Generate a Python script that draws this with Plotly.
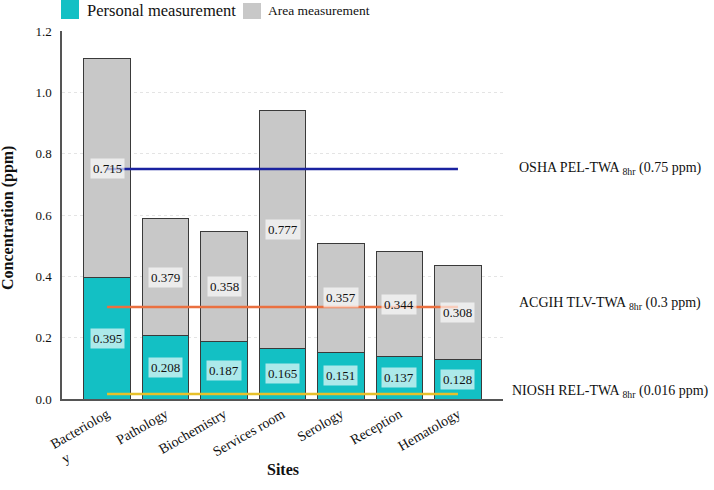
import plotly.graph_objects as go

sites = ["Bacteriology", "Pathology", "Biochemistry", "Services room", "Serology", "Reception", "Hematology"]
tick_labels = ["Bacteriolog<br>y" + "&nbsp;" * 16, "Pathology", "Biochemistry", "Services room",
               "Serology", "Reception", "Hematology"]
personal = [0.395, 0.208, 0.187, 0.165, 0.151, 0.137, 0.128]
area = [0.715, 0.379, 0.358, 0.777, 0.357, 0.344, 0.308]
series_names = ["Personal measurement", "Area measurement"]
limit_names = ["OSHA PEL-TWA <sub>8hr</sub> (0.75 ppm)",
               "ACGIH TLV-TWA <sub>8hr</sub> (0.3 ppm)",
               "NIOSH REL-TWA <sub>8hr</sub> (0.016 ppm)"]
limit_values = [0.75, 0.3, 0.016]
limit_label_y = [0.753, 0.31, 0.026]
limit_colors = ["#1a22a0", "#ea7040", "#e8c02a"]

FONT = "Liberation Serif"
TEAL = "#13c0c4"
GRAY = "#c8c8c8"
W, H = 714, 490
L, R, T, B = 62, 211, 31, 91
PW, PH = W - L - R, H - T - B

def px(x):
    return (x - L) / PW

def py(y):
    return (H - B - y) / PH

xs = list(range(len(sites)))

fig = go.Figure()
fig.add_trace(go.Bar(x=xs, y=personal, name=series_names[0],
                     marker=dict(color=TEAL, line=dict(color="#3a3a3a", width=1)),
                     width=0.79, showlegend=False))
fig.add_trace(go.Bar(x=xs, y=area, name=series_names[1],
                     marker=dict(color=GRAY, line=dict(color="#3a3a3a", width=1)),
                     width=0.79, showlegend=False))

for v, c in zip(limit_values, limit_colors):
    fig.add_trace(go.Scatter(x=[xs[0], xs[-1]], y=[v, v], mode="lines",
                             line=dict(color=c, width=2.5), showlegend=False,
                             hoverinfo="skip"))

annotations = []
for i, (p, a) in enumerate(zip(personal, area)):
    annotations.append(dict(x=i, y=p / 2, text=f"{p:.3f}", showarrow=False,
                            xref="x", yref="y", bgcolor="rgba(255,255,255,0.65)",
                            font=dict(family=FONT, size=13, color="#111"), borderpad=2))
    annotations.append(dict(x=i, y=p + a / 2, text=f"{a:.3f}", showarrow=False,
                            xref="x", yref="y", bgcolor="rgba(255,255,255,0.65)",
                            font=dict(family=FONT, size=13, color="#111"), borderpad=2))
for name, yv in zip(limit_names, limit_label_y):
    annotations.append(dict(x=px(610), y=yv, xref="paper", yref="y", text=name,
                            showarrow=False, xanchor="center",
                            font=dict(family=FONT, size=14, color="#111")))

# legend (drawn manually to match the larger swatches)
shapes = [
    dict(type="rect", xref="paper", yref="paper", x0=px(61), x1=px(79), y0=py(19), y1=py(0),
         fillcolor=TEAL, line=dict(width=0)),
    dict(type="rect", xref="paper", yref="paper", x0=px(243), x1=px(261), y0=py(19), y1=py(3),
         fillcolor=GRAY, line=dict(width=0)),
]
annotations.append(dict(x=px(85), y=py(11), xref="paper", yref="paper", xanchor="left",
                        yanchor="middle", text=series_names[0], showarrow=False,
                        font=dict(family=FONT, size=16.5, color="#111")))
annotations.append(dict(x=px(266), y=py(11), xref="paper", yref="paper", xanchor="left",
                        yanchor="middle", text=series_names[1], showarrow=False,
                        font=dict(family=FONT, size=13.5, color="#111")))
annotations.append(dict(x=0.5, y=py(470), xref="paper", yref="paper", xanchor="center",
                        yanchor="middle", text="<b>Sites</b>", showarrow=False,
                        font=dict(family=FONT, size=16, color="#111")))
annotations.append(dict(x=px(8), y=py(218), xref="paper", yref="paper", xanchor="center",
                        yanchor="middle", text="<b>Concentration (ppm)</b>", showarrow=False,
                        textangle=-90, font=dict(family=FONT, size=16, color="#111")))

fig.update_layout(
    barmode="stack",
    width=W, height=H,
    margin=dict(l=L, r=R, t=T, b=B),
    paper_bgcolor="white", plot_bgcolor="white",
    font=dict(family=FONT, color="#111"),
    annotations=annotations,
    shapes=shapes,
    showlegend=False,
)
fig.update_xaxes(range=[-0.77, 6.77], tickvals=xs, ticktext=tick_labels, tickangle=-30,
                 showline=True, linecolor="#555", linewidth=1.5, showgrid=False,
                 tickfont=dict(family=FONT, size=14), ticks="", automargin=False)
fig.update_yaxes(range=[0, 1.2], dtick=0.2, tickformat=".1f",
                 showline=True, linecolor="#555", linewidth=1.5,
                 showgrid=True, gridcolor="#e4e4e4", griddash="dot", gridwidth=1,
                 zeroline=False, ticks="", automargin=False, ticklabelstandoff=6,
                 tickfont=dict(family=FONT, size=13))

fig.write_html("out.html", post_script="document.body.style.margin='0';",
               config={"displayModeBar": False})
